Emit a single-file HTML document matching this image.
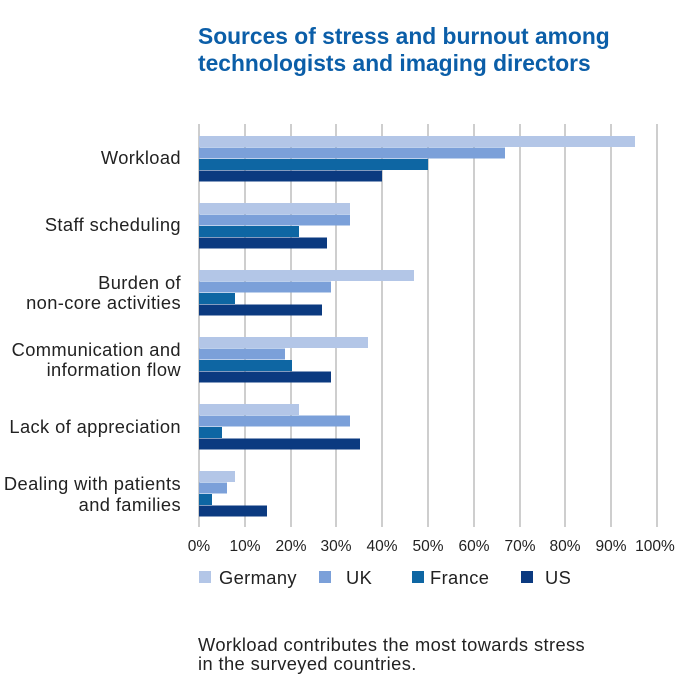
<!DOCTYPE html>
<html><head><style>
body{margin:0;background:#fff;}
svg text{font-family:"Liberation Sans",sans-serif;}
</style></head><body>
<svg width="700" height="686" viewBox="0 0 700 686" xmlns="http://www.w3.org/2000/svg">
<rect width="700" height="686" fill="#fff"/>
<text x="198" y="44" font-size="22.8" font-weight="bold" fill="#0b5ea8">Sources of stress and burnout among</text>
<text x="198" y="71" font-size="22.8" font-weight="bold" fill="#0b5ea8">technologists and imaging directors</text>
<g stroke="#bdbdbd" stroke-width="1.5">
<line x1="245" y1="124" x2="245" y2="527"/><line x1="291" y1="124" x2="291" y2="527"/>
<line x1="336" y1="124" x2="336" y2="527"/><line x1="382" y1="124" x2="382" y2="527"/>
<line x1="428" y1="124" x2="428" y2="527"/><line x1="474" y1="124" x2="474" y2="527"/>
<line x1="520" y1="124" x2="520" y2="527"/><line x1="565" y1="124" x2="565" y2="527"/>
<line x1="611" y1="124" x2="611" y2="527"/><line x1="657" y1="124" x2="657" y2="527"/>
<line x1="199" y1="124" x2="199" y2="527"/>
</g>
<g font-size="18.3" letter-spacing="0.4" fill="#222" text-anchor="end">
<text x="181" y="164">Workload</text>
<text x="181" y="231">Staff scheduling</text>
<text x="181" y="289">Burden of</text><text x="181" y="309">non-core activities</text>
<text x="181" y="356">Communication and</text><text x="181" y="376">information flow</text>
<text x="181" y="433">Lack of appreciation</text>
<text x="181" y="490">Dealing with patients</text><text x="181" y="511">and families</text>
</g>
<g font-size="15.5" fill="#222" text-anchor="middle">
<text x="199" y="551">0%</text><text x="245" y="551">10%</text><text x="291" y="551">20%</text><text x="336" y="551">30%</text><text x="382" y="551">40%</text><text x="428" y="551">50%</text><text x="474" y="551">60%</text><text x="520" y="551">70%</text><text x="565" y="551">80%</text><text x="611" y="551">90%</text><text x="655" y="551">100%</text>
</g>
<g font-size="18.3" letter-spacing="0.4" fill="#222">
<rect x="199" y="571" width="12" height="12" fill="#b3c6e7"/><text x="219" y="584">Germany</text>
<rect x="319" y="571" width="12" height="12" fill="#7ba0d9"/><text x="346" y="584">UK</text>
<rect x="412" y="571" width="12" height="12" fill="#0e66a3"/><text x="430" y="584">France</text>
<rect x="521" y="571" width="12" height="12" fill="#0b3a80"/><text x="545" y="584">US</text>
<text x="198" y="651">Workload contributes the most towards stress</text>
<text x="198" y="670">in the surveyed countries.</text>
</g>
<g>
<rect x="199" y="136" width="436" height="11" fill="#b3c6e7"/><rect x="199" y="147.5" width="306" height="11" fill="#7ba0d9"/><rect x="199" y="159" width="229" height="11" fill="#0e66a3"/><rect x="199" y="170.5" width="183" height="11" fill="#0b3a80"/>
<rect x="199" y="203" width="151" height="11" fill="#b3c6e7"/><rect x="199" y="214.5" width="151" height="11" fill="#7ba0d9"/><rect x="199" y="226" width="100" height="11" fill="#0e66a3"/><rect x="199" y="237.5" width="128" height="11" fill="#0b3a80"/>
<rect x="199" y="270" width="215" height="11" fill="#b3c6e7"/><rect x="199" y="281.5" width="132" height="11" fill="#7ba0d9"/><rect x="199" y="293" width="36" height="11" fill="#0e66a3"/><rect x="199" y="304.5" width="123" height="11" fill="#0b3a80"/>
<rect x="199" y="337" width="169" height="11" fill="#b3c6e7"/><rect x="199" y="348.5" width="86" height="11" fill="#7ba0d9"/><rect x="199" y="360" width="93" height="11" fill="#0e66a3"/><rect x="199" y="371.5" width="132" height="11" fill="#0b3a80"/>
<rect x="199" y="404" width="100" height="11" fill="#b3c6e7"/><rect x="199" y="415.5" width="151" height="11" fill="#7ba0d9"/><rect x="199" y="427" width="23" height="11" fill="#0e66a3"/><rect x="199" y="438.5" width="161" height="11" fill="#0b3a80"/>
<rect x="199" y="471" width="36" height="11" fill="#b3c6e7"/><rect x="199" y="482.5" width="28" height="11" fill="#7ba0d9"/><rect x="199" y="494" width="13" height="11" fill="#0e66a3"/><rect x="199" y="505.5" width="68" height="11" fill="#0b3a80"/>
</g>
</svg>
</body></html>
